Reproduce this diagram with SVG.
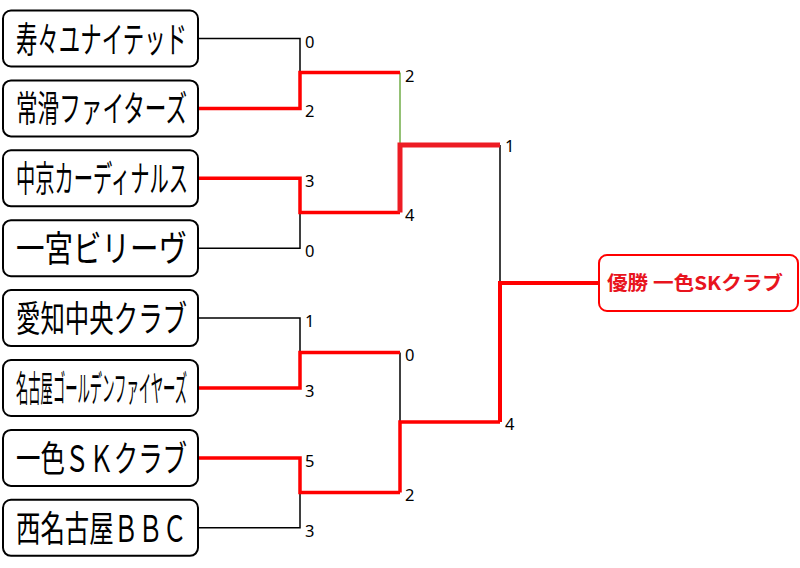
<svg xmlns="http://www.w3.org/2000/svg" width="800" height="568" viewBox="0 0 800 568">
<style>
.box{fill:#fff;stroke:#000;stroke-width:2}
.team{font-family:"Noto Sans CJK JP","Noto Sans CJK SC",sans-serif;font-size:36px;fill:#000}
.sc{font-family:"Noto Sans","DejaVu Sans",sans-serif;font-size:16.5px;fill:#000}
.blk{fill:none;stroke:#000;stroke-width:1.5}
.red{fill:none;stroke:#ff0000;stroke-width:3.5}
.red2{fill:none;stroke:#ed1c24;stroke-width:5}
.grn{fill:none;stroke:#70ad47;stroke-width:1.5}
.win{fill:#fff;stroke:#ff0000;stroke-width:2}
.wint{font-family:"Noto Sans CJK JP","Noto Sans CJK SC",sans-serif;font-size:19px;font-weight:bold;fill:#e8141e}
</style>
<rect width="800" height="568" fill="#fff"/>
<g id="connectors">
  <polyline class="blk" points="198,38.5 300,38.5 300,72.5"/>
  <polyline class="blk" points="198,248.2 300,248.2 300,212.5"/>
  <polyline class="blk" points="198,318.1 300,318.1 300,352.5"/>
  <polyline class="blk" points="198,527.8 300,527.8 300,492.5"/>
  <polyline class="grn" points="400,72.5 400,145"/>
  <polyline class="blk" points="400,352.5 400,422"/>
  <polyline class="blk" points="500,145 500,283"/>
  <polyline class="red" points="198,108.4 300,108.4 300,72.5 400,72.5"/>
  <polyline class="red" points="198,178.3 300,178.3 300,212.5 400,212.5"/>
  <polyline class="red" points="198,388 300,388 300,352.5 400,352.5"/>
  <polyline class="red" points="198,457.9 300,457.9 300,492.5 400,492.5"/>
  <polyline class="red2" points="400,212.5 400,145 500,145"/>
  <polyline class="red" points="400,492.5 400,422 500,422"/>
  <polyline class="red" style="stroke-width:4" points="500,422 500,283 600,283"/>
</g>
<g id="team1"><rect class="box" x="3" y="10.5" width="195" height="56" rx="8"/><text class="team" x="16" y="52.5" textLength="171" lengthAdjust="spacingAndGlyphs">寿々ユナイテッド</text></g>
<g id="team2"><rect class="box" x="3" y="80.4" width="195" height="56" rx="8"/><text class="team" x="16" y="122.4" textLength="171" lengthAdjust="spacingAndGlyphs">常滑ファイターズ</text></g>
<g id="team3"><rect class="box" x="3" y="150.3" width="195" height="56" rx="8"/><text class="team" x="16" y="192.3" textLength="172" lengthAdjust="spacingAndGlyphs">中京カーディナルス</text></g>
<g id="team4"><rect class="box" x="3" y="220.2" width="195" height="56" rx="8"/><text class="team" x="16" y="262.2" textLength="171" lengthAdjust="spacingAndGlyphs">一宮ビリーヴ</text></g>
<g id="team5"><rect class="box" x="3" y="290.1" width="195" height="56" rx="8"/><text class="team" x="16" y="332.1" textLength="171" lengthAdjust="spacingAndGlyphs">愛知中央クラブ</text></g>
<g id="team6"><rect class="box" x="3" y="360" width="195" height="56" rx="8"/><text class="team" x="16" y="402" textLength="171" lengthAdjust="spacingAndGlyphs">名古屋ゴールデンファイヤーズ</text></g>
<g id="team7"><rect class="box" x="3" y="429.9" width="195" height="56" rx="8"/><text class="team" x="16" y="471.9" textLength="171" lengthAdjust="spacingAndGlyphs">一色ＳＫクラブ</text></g>
<g id="team8"><rect class="box" x="3" y="499.8" width="195" height="56" rx="8"/><text class="team" x="16" y="541.8" textLength="171" lengthAdjust="spacingAndGlyphs">西名古屋ＢＢＣ</text></g>
<g id="scores">
  <text class="sc" x="305" y="47.5">0</text>
  <text class="sc" x="305" y="117">2</text>
  <text class="sc" x="305" y="187">3</text>
  <text class="sc" x="305" y="257">0</text>
  <text class="sc" x="305" y="327">1</text>
  <text class="sc" x="305" y="397">3</text>
  <text class="sc" x="305" y="466.5">5</text>
  <text class="sc" x="305" y="536.5">3</text>
  <text class="sc" x="405" y="81.5">2</text>
  <text class="sc" x="405" y="221">4</text>
  <text class="sc" x="405" y="361">0</text>
  <text class="sc" x="405" y="501">2</text>
  <text class="sc" x="505" y="152">1</text>
  <text class="sc" x="505" y="430">4</text>
</g>
<g id="winner"><rect class="win" x="599" y="255" width="199" height="56" rx="8"/><text class="wint" x="607" y="290" textLength="176" lengthAdjust="spacingAndGlyphs">優勝 一色SKクラブ</text></g>
</svg>
